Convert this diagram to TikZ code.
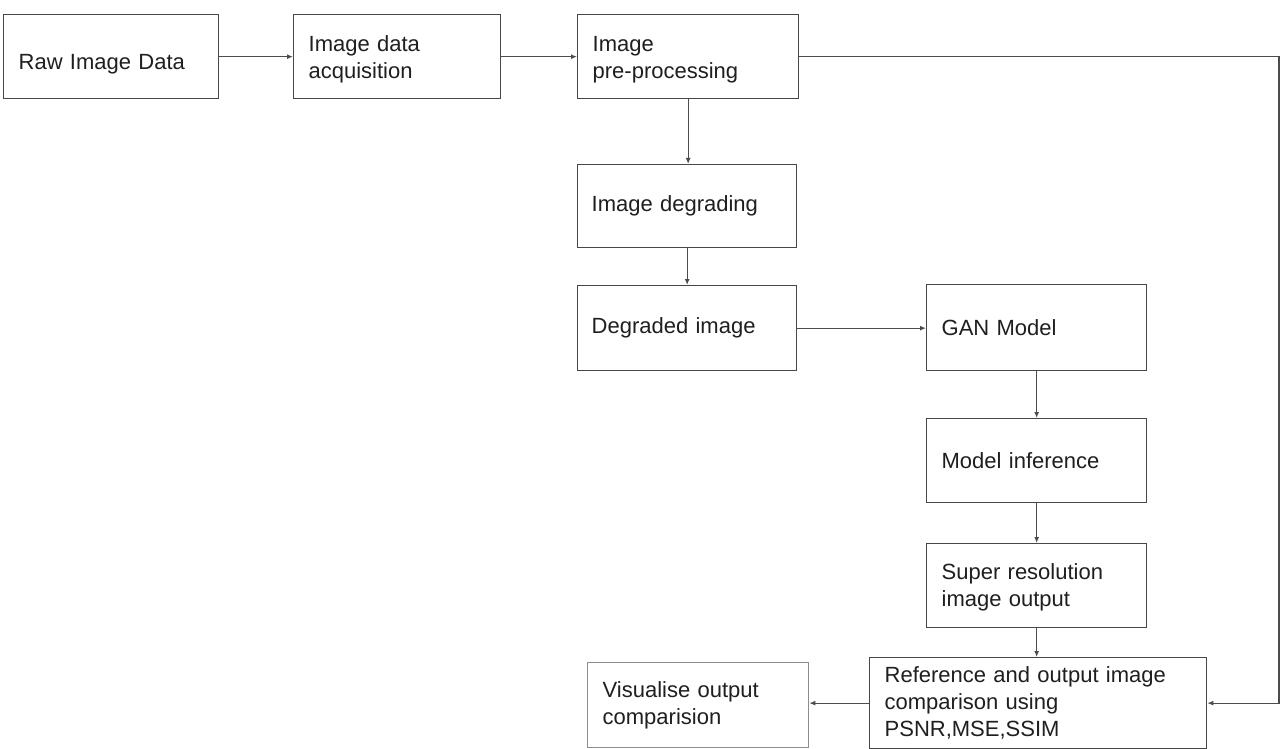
\documentclass[tikz,border=0pt]{standalone}
\usepackage{fontspec}
\setmainfont{Liberation Sans}
\usetikzlibrary{arrows.meta}
\begin{document}
\begin{tikzpicture}[x=1pt,y=-1pt,
  box/.style={draw=black!72, line width=1.3pt, rectangle, anchor=north west,
    inner xsep=0pt, inner ysep=0pt, align=left,
    font=\fontsize{22}{27}\selectfont, text=black!88},
  conn/.style={draw=black!70, line width=1.2pt, -{Latex[length=6pt,width=5pt]}},
]
\useasboundingbox (0,0) rectangle (1286,749);
\fill[white] (0,0) rectangle (1286,749);

\node[box, minimum width=215pt, minimum height=84pt, text width=185pt, text height=30pt, text depth=5pt] (raw) at (3,14) {Raw Image Data};
\node[box, minimum width=207pt, minimum height=84pt, text width=177pt, text height=22pt] (acq) at (293,14) {Image data\\acquisition};
\node[box, minimum width=221pt, minimum height=84pt, text width=191pt, text height=22pt] (pre) at (577,14) {Image\\pre-processing};
\node[box, minimum width=219pt, minimum height=83pt, text width=191pt] (deg) at (577,164) {Image degrading};
\node[box, minimum width=219pt, minimum height=85pt, text width=191pt] (dgi) at (577,285) {Degraded image};
\node[box, minimum width=220pt, minimum height=86pt, text width=190pt] (gan) at (926,284) {GAN Model};
\node[box, minimum width=220pt, minimum height=84pt, text width=190pt] (inf) at (926,418) {Model inference};
\node[box, minimum width=220pt, minimum height=84pt, text width=190pt, text height=20pt] (sr) at (926,543) {Super resolution\\image output};
\node[box, minimum width=337pt, minimum height=91pt, text width=307pt] (ref) at (869,657) {Reference and output image\\comparison using\\PSNR,MSE,SSIM};
\node[box, draw=black!45, minimum width=221pt, minimum height=85pt, text width=191pt] (vis) at (587,662) {Visualise output\\comparision};

\coordinate (tr) at (1279,0);

\draw[conn] (raw.east) -- (acq.west);
\draw[conn] (acq.east) -- (pre.west);
\draw[conn] (pre.south) -- (pre.south |- deg.north);
\draw[conn] (deg.south) -- (deg.south |- dgi.north);
\draw[conn] (dgi.east) -- (dgi.east -| gan.west);
\draw[conn] (gan.south) -- (gan.south |- inf.north);
\draw[conn] (inf.south) -- (inf.south |- sr.north);
\draw[conn] (sr.south) -- (sr.south |- ref.north);
\draw[conn] (ref.west) -- (ref.west -| vis.east);
\draw[conn] (pre.east) -- (pre.east -| tr) -- (tr |- ref.east) -- (ref.east);
\end{tikzpicture}
\end{document}
